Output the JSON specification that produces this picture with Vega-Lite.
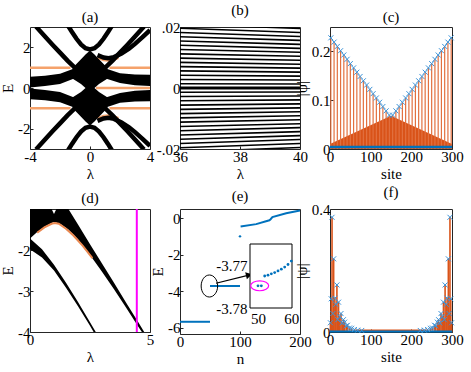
{
"$schema":"https://vega.github.io/schema/vega-lite/v6.json",
"background":"white",
"padding":{"left":0,"top":2,"right":5,"bottom":0},
"config":{
"view":{"stroke":"#262626","strokeWidth":1},
"font":"Liberation Serif",
"axis":{"labelFont":"Liberation Serif","titleFont":"Liberation Serif","labelFontSize":15,"titleFontSize":15,"titleFontWeight":"normal","labelColor":"black","titleColor":"black","grid":false,"domain":false,"ticks":true,"tickSize":-3,"tickColor":"#262626","labelPadding":3,"titlePadding":2,"labelFlush":false,"labelOverlap":false,"labelBound":false},
"axisX":{"labelAngle":0},
"title":{"font":"Liberation Serif","fontSize":15,"fontWeight":"normal","offset":2,"color":"black"}
},
"spacing":2,
"vconcat":[
{"hconcat":[
{"width":120,"height":122,"title":"(a)",
"layer":[
{"data":{"values":[
{"x":-4,"y":1,"s":"o1"},{"x":-1.3,"y":1,"s":"o1"},
{"x":1.3,"y":1,"s":"o2"},{"x":4,"y":1,"s":"o2"},
{"x":-4,"y":-1,"s":"o3"},{"x":-1.3,"y":-1,"s":"o3"},
{"x":1.3,"y":-1,"s":"o4"},{"x":4,"y":-1,"s":"o4"},
{"x":0.4,"y":0,"s":"o5"},{"x":4,"y":0,"s":"o5"},
{"x":0.5,"y":1.5,"s":"o6"},{"x":0.9,"y":1.38,"s":"o6"},{"x":1.23,"y":1.35,"s":"o6"},{"x":1.6,"y":1.4,"s":"o6"},{"x":1.9,"y":1.48,"s":"o6"},
{"x":0.5,"y":-1.5,"s":"o7"},{"x":0.9,"y":-1.38,"s":"o7"},{"x":1.23,"y":-1.35,"s":"o7"},{"x":1.6,"y":-1.4,"s":"o7"},{"x":1.9,"y":-1.48,"s":"o7"}]},
"mark":{"type":"line","color":"#F5A26B","strokeWidth":2.5,"clip":true},
"encoding":{"x":{"field":"x","type":"quantitative","scale":{"domain":[-4,4],"nice":false},"axis":{"values":[-4,-2,0,2,4],"title":"λ","labelExpr":"datum.value+''"}},
"y":{"field":"y","type":"quantitative","scale":{"domain":[-3,3],"nice":false},"axis":{"values":[-2,0,2],"title":"E","labelExpr":"datum.value+''"}},
"detail":{"field":"s"}}},
{"data":{"values":[
{"x":-4,"lo":0.03,"hi":0.55,"s":"UL"},{"x":-3,"lo":0.1,"hi":0.6,"s":"UL"},{"x":-2,"lo":0.2,"hi":0.7,"s":"UL"},{"x":-1.1,"lo":0.45,"hi":0.95,"s":"UL"},
{"x":1.1,"lo":0.45,"hi":0.95,"s":"UR"},{"x":2,"lo":0.25,"hi":0.72,"s":"UR"},{"x":3,"lo":0.13,"hi":0.66,"s":"UR"},{"x":4,"lo":0.1,"hi":0.65,"s":"UR"},
{"x":-4,"lo":-0.55,"hi":-0.03,"s":"LL"},{"x":-3,"lo":-0.6,"hi":-0.1,"s":"LL"},{"x":-2,"lo":-0.7,"hi":-0.2,"s":"LL"},{"x":-1.1,"lo":-0.95,"hi":-0.45,"s":"LL"},
{"x":1.1,"lo":-0.95,"hi":-0.45,"s":"LR"},{"x":2,"lo":-0.72,"hi":-0.25,"s":"LR"},{"x":3,"lo":-0.66,"hi":-0.13,"s":"LR"},{"x":4,"lo":-0.65,"hi":-0.1,"s":"LR"},
{"x":-1.15,"lo":0.45,"hi":1.0,"s":"BU"},{"x":-0.6,"lo":0.2,"hi":1.42,"s":"BU"},{"x":-0.3,"lo":0.0,"hi":1.65,"s":"BU"},{"x":0,"lo":-0.1,"hi":1.85,"s":"BU"},{"x":0.3,"lo":0.0,"hi":1.65,"s":"BU"},{"x":0.6,"lo":0.2,"hi":1.42,"s":"BU"},{"x":1.15,"lo":0.45,"hi":1.0,"s":"BU"},
{"x":-1.15,"lo":-1.0,"hi":-0.45,"s":"BL"},{"x":-0.6,"lo":-1.42,"hi":-0.2,"s":"BL"},{"x":-0.3,"lo":-1.65,"hi":0.0,"s":"BL"},{"x":0,"lo":-1.85,"hi":0.1,"s":"BL"},{"x":0.3,"lo":-1.65,"hi":0.0,"s":"BL"},{"x":0.6,"lo":-1.42,"hi":-0.2,"s":"BL"},{"x":1.15,"lo":-1.0,"hi":-0.45,"s":"BL"}]},
"mark":{"type":"area","color":"black","clip":true,"opacity":1},
"encoding":{"x":{"field":"x","type":"quantitative"},"y":{"field":"lo","type":"quantitative"},"y2":{"field":"hi"},"detail":{"field":"s"}}},
{"data":{"values":[
{"x":-3.6,"y":3.02,"s":"H1"},{"x":-3,"y":2.53,"s":"H1"},{"x":-2.5,"y":2.13,"s":"H1"},{"x":-2,"y":1.74,"s":"H1"},{"x":-1.5,"y":1.35,"s":"H1"},{"x":-1,"y":0.99,"s":"H1"},{"x":-0.5,"y":0.69,"s":"H1"},{"x":0,"y":0.55,"s":"H1"},{"x":0.5,"y":0.69,"s":"H1"},{"x":1,"y":0.99,"s":"H1"},{"x":1.5,"y":1.35,"s":"H1"},{"x":2,"y":1.74,"s":"H1"},{"x":2.5,"y":2.13,"s":"H1"},{"x":3,"y":2.53,"s":"H1"},{"x":3.6,"y":3.02,"s":"H1"},
{"x":-3.6,"y":-3.02,"s":"H2"},{"x":-3,"y":-2.53,"s":"H2"},{"x":-2.5,"y":-2.13,"s":"H2"},{"x":-2,"y":-1.74,"s":"H2"},{"x":-1.5,"y":-1.35,"s":"H2"},{"x":-1,"y":-0.99,"s":"H2"},{"x":-0.5,"y":-0.69,"s":"H2"},{"x":0,"y":-0.55,"s":"H2"},{"x":0.5,"y":-0.69,"s":"H2"},{"x":1,"y":-0.99,"s":"H2"},{"x":1.5,"y":-1.35,"s":"H2"},{"x":2,"y":-1.74,"s":"H2"},{"x":2.5,"y":-2.13,"s":"H2"},{"x":3,"y":-2.53,"s":"H2"},{"x":3.6,"y":-3.02,"s":"H2"},
{"x":-1.45,"y":3.05,"s":"U1"},{"x":-1.2,"y":2.75,"s":"U1"},{"x":-0.9,"y":2.42,"s":"U1"},{"x":-0.6,"y":2.14,"s":"U1"},{"x":-0.3,"y":1.96,"s":"U1"},{"x":0,"y":1.9,"s":"U1"},{"x":0.3,"y":1.96,"s":"U1"},{"x":0.6,"y":2.14,"s":"U1"},{"x":0.9,"y":2.42,"s":"U1"},{"x":1.2,"y":2.75,"s":"U1"},{"x":1.45,"y":3.05,"s":"U1"},
{"x":-1.45,"y":-3.05,"s":"U2"},{"x":-1.2,"y":-2.75,"s":"U2"},{"x":-0.9,"y":-2.42,"s":"U2"},{"x":-0.6,"y":-2.14,"s":"U2"},{"x":-0.3,"y":-1.96,"s":"U2"},{"x":0,"y":-1.9,"s":"U2"},{"x":0.3,"y":-1.96,"s":"U2"},{"x":0.6,"y":-2.14,"s":"U2"},{"x":0.9,"y":-2.42,"s":"U2"},{"x":1.2,"y":-2.75,"s":"U2"},{"x":1.45,"y":-3.05,"s":"U2"},
{"x":0.5,"y":1.62,"s":"R1"},{"x":0.9,"y":1.5,"s":"R1"},{"x":1.23,"y":1.47,"s":"R1"},{"x":1.6,"y":1.52,"s":"R1"},{"x":2.1,"y":1.7,"s":"R1"},{"x":2.6,"y":1.93,"s":"R1"},{"x":3.0,"y":2.17,"s":"R1"},{"x":3.5,"y":2.5,"s":"R1"},{"x":4.0,"y":2.85,"s":"R1"},
{"x":0.5,"y":-1.62,"s":"R2"},{"x":0.9,"y":-1.5,"s":"R2"},{"x":1.23,"y":-1.47,"s":"R2"},{"x":1.6,"y":-1.52,"s":"R2"},{"x":2.1,"y":-1.7,"s":"R2"},{"x":2.6,"y":-1.93,"s":"R2"},{"x":3.0,"y":-2.17,"s":"R2"},{"x":3.5,"y":-2.5,"s":"R2"},{"x":4.0,"y":-2.85,"s":"R2"}]},
"mark":{"type":"line","color":"black","strokeWidth":4.5,"clip":true},
"encoding":{"x":{"field":"x","type":"quantitative"},"y":{"field":"y","type":"quantitative"},"detail":{"field":"s"}}}
]},
{"width":120,"height":122,"title":"(b)",
"data":{"values":[
{"x":36,"y":0.0002,"k":"c1"},{"x":40,"y":0.0002,"k":"c1"},{"x":36,"y":-0.0002,"k":"c2"},{"x":40,"y":-0.0002,"k":"c2"},
{"x":36,"y":0.0014,"k":"p1"},{"x":40,"y":0.0013,"k":"p1"},{"x":36,"y":0.0028,"k":"p2"},{"x":40,"y":0.0026,"k":"p2"},{"x":36,"y":0.0042,"k":"p3"},{"x":40,"y":0.0039,"k":"p3"},{"x":36,"y":0.0056,"k":"p4"},{"x":40,"y":0.0052,"k":"p4"},{"x":36,"y":0.007,"k":"p5"},{"x":40,"y":0.0065,"k":"p5"},{"x":36,"y":0.0084,"k":"p6"},{"x":40,"y":0.0078,"k":"p6"},{"x":36,"y":0.0098,"k":"p7"},{"x":40,"y":0.0091,"k":"p7"},{"x":36,"y":0.0112,"k":"p8"},{"x":40,"y":0.0104,"k":"p8"},{"x":36,"y":0.0126,"k":"p9"},{"x":40,"y":0.0117,"k":"p9"},{"x":36,"y":0.014,"k":"p10"},{"x":40,"y":0.013,"k":"p10"},{"x":36,"y":0.0154,"k":"p11"},{"x":40,"y":0.0143,"k":"p11"},{"x":36,"y":0.0168,"k":"p12"},{"x":40,"y":0.0156,"k":"p12"},{"x":36,"y":0.0182,"k":"p13"},{"x":40,"y":0.0169,"k":"p13"},{"x":36,"y":0.0196,"k":"p14"},{"x":40,"y":0.0182,"k":"p14"},{"x":36,"y":0.021,"k":"p15"},{"x":40,"y":0.0195,"k":"p15"},
{"x":36,"y":-0.0014,"k":"m1"},{"x":40,"y":-0.0013,"k":"m1"},{"x":36,"y":-0.0028,"k":"m2"},{"x":40,"y":-0.0026,"k":"m2"},{"x":36,"y":-0.0042,"k":"m3"},{"x":40,"y":-0.0039,"k":"m3"},{"x":36,"y":-0.0056,"k":"m4"},{"x":40,"y":-0.0052,"k":"m4"},{"x":36,"y":-0.007,"k":"m5"},{"x":40,"y":-0.0065,"k":"m5"},{"x":36,"y":-0.0084,"k":"m6"},{"x":40,"y":-0.0078,"k":"m6"},{"x":36,"y":-0.0098,"k":"m7"},{"x":40,"y":-0.0091,"k":"m7"},{"x":36,"y":-0.0112,"k":"m8"},{"x":40,"y":-0.0104,"k":"m8"},{"x":36,"y":-0.0126,"k":"m9"},{"x":40,"y":-0.0117,"k":"m9"},{"x":36,"y":-0.014,"k":"m10"},{"x":40,"y":-0.013,"k":"m10"},{"x":36,"y":-0.0154,"k":"m11"},{"x":40,"y":-0.0143,"k":"m11"},{"x":36,"y":-0.0168,"k":"m12"},{"x":40,"y":-0.0156,"k":"m12"},{"x":36,"y":-0.0182,"k":"m13"},{"x":40,"y":-0.0169,"k":"m13"},{"x":36,"y":-0.0196,"k":"m14"},{"x":40,"y":-0.0182,"k":"m14"},{"x":36,"y":-0.021,"k":"m15"},{"x":40,"y":-0.0195,"k":"m15"}]},
"mark":{"type":"line","color":"black","strokeWidth":1.6,"clip":true},
"encoding":{"x":{"field":"x","type":"quantitative","scale":{"domain":[36,40],"nice":false},"axis":{"values":[36,38,40],"title":"λ"}},
"y":{"field":"y","type":"quantitative","scale":{"domain":[-0.02,0.02],"nice":false},"axis":{"values":[-0.02,0,0.02],"title":null,"labelExpr":"datum.value==0?'0':replace(datum.value+'','0.','.')"}},
"detail":{"field":"k"}}},
{"width":122,"height":122,"title":"(c)",
"layer":[
{"data":{"values":[{"s":0,"v":0.01},{"s":150,"v":0.068},{"s":300,"v":0.01}]},
"mark":{"type":"area","color":"#D95319","opacity":1},
"encoding":{"x":{"field":"s","type":"quantitative","scale":{"domain":[0,300],"nice":false},"axis":{"values":[0,100,200,300],"title":"site"}},
"y":{"field":"v","type":"quantitative","scale":{"domain":[0,0.25],"nice":false},"stack":null,"axis":{"values":[0,0.1,0.2],"title":"|ψ|","labelExpr":"datum.value+''"}}}},
{"data":{"name":"cv","values":[
{"s":2,"v":0.2278},{"s":10,"v":0.219},{"s":18,"v":0.2102},{"s":26,"v":0.2014},{"s":34,"v":0.1926},{"s":42,"v":0.1838},{"s":50,"v":0.175},{"s":58,"v":0.1662},{"s":66,"v":0.1574},{"s":74,"v":0.1486},{"s":82,"v":0.1398},{"s":90,"v":0.131},{"s":98,"v":0.1222},{"s":106,"v":0.1134},{"s":114,"v":0.1046},{"s":122,"v":0.0958},{"s":130,"v":0.087},{"s":138,"v":0.0782},{"s":146,"v":0.0694},
{"s":154,"v":0.0694},{"s":162,"v":0.0782},{"s":170,"v":0.087},{"s":178,"v":0.0958},{"s":186,"v":0.1046},{"s":194,"v":0.1134},{"s":202,"v":0.1222},{"s":210,"v":0.131},{"s":218,"v":0.1398},{"s":226,"v":0.1486},{"s":234,"v":0.1574},{"s":242,"v":0.1662},{"s":250,"v":0.175},{"s":258,"v":0.1838},{"s":266,"v":0.1926},{"s":274,"v":0.2014},{"s":282,"v":0.2102},{"s":290,"v":0.219},{"s":298,"v":0.2278}]},
"mark":{"type":"rule","color":"#E2703F","strokeWidth":1.2},
"encoding":{"x":{"field":"s","type":"quantitative"},"y":{"field":"v","type":"quantitative"},"y2":{"datum":0}}},
{"data":{"values":[{"s":0,"v":0.004},{"s":300,"v":0.004}]},
"mark":{"type":"line","color":"#0072BD","strokeWidth":2.5},
"encoding":{"x":{"field":"s","type":"quantitative"},"y":{"field":"v","type":"quantitative"}}},
{"data":{"name":"cv"},
"mark":{"type":"point","shape":"M-1,-1L1,1M-1,1L1,-1","size":25,"filled":false,"stroke":"#3A92D8","strokeWidth":1,"opacity":1},
"encoding":{"x":{"field":"s","type":"quantitative"},"y":{"field":"v","type":"quantitative"}}}
]}
],"spacing":30,"bounds":"flush"},
{"hconcat":[
{"width":120,"height":123,"title":"(d)",
"layer":[
{"data":{"values":[
{"x":0,"lo":-1.72,"hi":-1,"s":"A"},{"x":0.3,"lo":-1.56,"hi":-1,"s":"A"},{"x":0.6,"lo":-1.43,"hi":-1,"s":"A"},{"x":0.9,"lo":-1.34,"hi":-1,"s":"A"},{"x":1.0,"lo":-1.32,"hi":-1.12,"s":"A"},{"x":1.1,"lo":-1.33,"hi":-1,"s":"A"},{"x":1.3,"lo":-1.38,"hi":-1,"s":"A"},{"x":1.6,"lo":-1.5,"hi":-1,"s":"A"},{"x":2.0,"lo":-1.74,"hi":-1.38,"s":"A"},{"x":2.5,"lo":-2.12,"hi":-1.86,"s":"A"},{"x":3.0,"lo":-2.53,"hi":-2.33,"s":"A"},{"x":3.5,"lo":-2.96,"hi":-2.8,"s":"A"},{"x":4.0,"lo":-3.4,"hi":-3.28,"s":"A"},{"x":4.5,"lo":-3.86,"hi":-3.75,"s":"A"},{"x":4.8,"lo":-4.12,"hi":-4.04,"s":"A"},
{"x":0,"lo":-1.98,"hi":-1.72,"s":"B"},{"x":0.5,"lo":-2.18,"hi":-1.98,"s":"B"},{"x":1.0,"lo":-2.5,"hi":-2.36,"s":"B"},{"x":1.5,"lo":-2.92,"hi":-2.8,"s":"B"},{"x":2.0,"lo":-3.37,"hi":-3.27,"s":"B"},{"x":2.5,"lo":-3.85,"hi":-3.76,"s":"B"},{"x":2.8,"lo":-4.15,"hi":-4.06,"s":"B"}]},
"mark":{"type":"area","color":"black","clip":true,"opacity":1},
"encoding":{"x":{"field":"x","type":"quantitative","scale":{"domain":[0,5],"nice":false},"axis":{"values":[0,5],"title":"λ"}},
"y":{"field":"lo","type":"quantitative","scale":{"domain":[-4,-1],"nice":false},"axis":{"values":[-4,-3,-2],"title":"E","labelExpr":"datum.value+''"}},"y2":{"field":"hi"},"detail":{"field":"s"}}},
{"data":{"values":[{"x":0.3,"y":-1.58},{"x":0.6,"y":-1.45},{"x":0.9,"y":-1.36},{"x":1.03,"y":-1.34},{"x":1.2,"y":-1.36},{"x":1.5,"y":-1.48},{"x":1.8,"y":-1.64},{"x":2.2,"y":-1.9},{"x":2.6,"y":-2.2}]},
"mark":{"type":"line","color":"#E9874F","strokeWidth":2},
"encoding":{"x":{"field":"x","type":"quantitative"},"y":{"field":"y","type":"quantitative"}}},
{"data":{"values":[{"x":4.45}]},
"mark":{"type":"rule","color":"#FF00FF","strokeWidth":2},
"encoding":{"x":{"field":"x","type":"quantitative"}}}
]},
{"width":120,"height":125,"title":"(e)",
"resolve":{"scale":{"x":"independent","y":"independent"},"axis":{"x":"independent","y":"independent"}},
"layer":[
{"layer":[
{"data":{"values":[{"n":0,"E":-5.68,"g":"a"},{"n":50,"E":-5.68,"g":"a"},{"n":50,"E":-3.72,"g":"b"},{"n":100,"E":-3.72,"g":"b"},{"n":101,"E":-0.46,"g":"c"},{"n":127,"E":-0.33,"g":"c"},{"n":149,"E":-0.12,"g":"c"},{"n":151,"E":-0.06,"g":"c"},{"n":154,"E":0.06,"g":"c"},{"n":177,"E":0.27,"g":"c"},{"n":200,"E":0.42,"g":"c"}]},
"mark":{"type":"line","color":"#0072BD","strokeWidth":2},
"encoding":{"x":{"field":"n","type":"quantitative","scale":{"domain":[0,200],"nice":false},"axis":{"values":[0,100,200],"title":"n"}},
"y":{"field":"E","type":"quantitative","scale":{"domain":[-6.35,0.5],"nice":false},"axis":{"values":[-6,-4,-2,0],"title":"E","labelExpr":"datum.value+''"}},"detail":{"field":"g"}}},
{"data":{"values":[{"n":100,"E":-1.0}]},
"mark":{"type":"circle","color":"#0072BD","size":6,"opacity":1},
"encoding":{"x":{"field":"n","type":"quantitative"},"y":{"field":"E","type":"quantitative"}}},
{"data":{"values":[{"n":49,"E":-3.72}]},
"mark":{"type":"point","shape":"M-0.75,0A0.75,1,0,1,0,0.75,0A0.75,1,0,1,0,-0.75,0Z","size":484,"filled":false,"stroke":"black","strokeWidth":1,"opacity":1},
"encoding":{"x":{"field":"n","type":"quantitative"},"y":{"field":"E","type":"quantitative"}}},
{"data":{"values":[{"n":60,"E":-3.57},{"n":113,"E":-3.14}]},
"mark":{"type":"line","color":"black","strokeWidth":1.2},
"encoding":{"x":{"field":"n","type":"quantitative"},"y":{"field":"E","type":"quantitative"}}},
{"data":{"values":[{"n":115,"E":-3.12}]},
"mark":{"type":"point","shape":"triangle-right","angle":-14,"size":50,"filled":true,"color":"black","opacity":1},
"encoding":{"x":{"field":"n","type":"quantitative"},"y":{"field":"E","type":"quantitative"}}}
]},
{"layer":[
{"data":{"values":[{"a":47.6,"b":60.2,"c":-3.78,"d":-3.765}]},
"mark":{"type":"rect","fill":"white","stroke":"black","strokeWidth":1},
"encoding":{"x":{"field":"a","type":"quantitative","scale":{"domain":[47.6,60.2],"range":[70,112],"nice":false,"zero":false},"axis":{"orient":"bottom","offset":-26,"values":[50,60],"title":null,"ticks":false}},"x2":{"field":"b"},
"y":{"field":"c","type":"quantitative","scale":{"domain":[-3.78,-3.765],"range":[99,35],"nice":false,"zero":false},"axis":{"orient":"left","offset":-70,"values":[-3.78,-3.77],"title":null,"ticks":false,"labelExpr":"datum.value+''"}},"y2":{"field":"d"}}},
{"data":{"values":[{"n":50,"E":-3.7748},{"n":51,"E":-3.7748},{"n":52,"E":-3.7725},{"n":53,"E":-3.7723},{"n":54,"E":-3.772},{"n":55,"E":-3.7717},{"n":56,"E":-3.7713},{"n":57,"E":-3.7709},{"n":58,"E":-3.7704},{"n":59,"E":-3.7698},{"n":60,"E":-3.769}]},
"mark":{"type":"circle","color":"#0072BD","size":8,"opacity":1},
"encoding":{"x":{"field":"n","type":"quantitative"},"y":{"field":"E","type":"quantitative"}}},
{"data":{"values":[{"n":50.5,"E":-3.7748}]},
"mark":{"type":"point","shape":"M-1,0A1,0.55,0,1,0,1,0A1,0.55,0,1,0,-1,0Z","size":324,"filled":false,"stroke":"#FF00FF","strokeWidth":1.2,"opacity":1},
"encoding":{"x":{"field":"n","type":"quantitative"},"y":{"field":"E","type":"quantitative"}}}
]}
]},
{"width":122,"height":123,"title":"(f)",
"layer":[
{"data":{"name":"fv","values":[
{"s":1,"v":0.03},{"s":3,"v":0.108},{"s":5,"v":0.373},{"s":7,"v":0.06},{"s":9,"v":0.238},{"s":12,"v":0.11},{"s":14,"v":0.09},{"s":17,"v":0.153},{"s":19,"v":0.04},{"s":21,"v":0.097},{"s":24,"v":0.05},{"s":27,"v":0.06},{"s":30,"v":0.03},{"s":33,"v":0.04},{"s":36,"v":0.032},{"s":40,"v":0.02},{"s":43,"v":0.022},{"s":48,"v":0.013},{"s":53,"v":0.012},{"s":60,"v":0.008},{"s":68,"v":0.006},{"s":78,"v":0.005},
{"s":299,"v":0.03},{"s":297,"v":0.108},{"s":295,"v":0.373},{"s":293,"v":0.06},{"s":291,"v":0.238},{"s":288,"v":0.11},{"s":286,"v":0.09},{"s":283,"v":0.153},{"s":281,"v":0.04},{"s":279,"v":0.097},{"s":276,"v":0.05},{"s":273,"v":0.06},{"s":270,"v":0.03},{"s":267,"v":0.04},{"s":264,"v":0.032},{"s":260,"v":0.02},{"s":257,"v":0.022},{"s":252,"v":0.013},{"s":247,"v":0.012},{"s":240,"v":0.008},{"s":232,"v":0.006},{"s":222,"v":0.005}]},
"mark":{"type":"rule","color":"#D95319","strokeWidth":1.6},
"encoding":{"x":{"field":"s","type":"quantitative","scale":{"domain":[0,300],"nice":false},"axis":{"values":[0,100,200,300],"title":"site","labelOverlap":false,"labelBound":false,"labelFlush":false}},
"y":{"field":"v","type":"quantitative","scale":{"domain":[0,0.4],"nice":false},"axis":{"values":[0,0.4],"title":"|ψ|","labelExpr":"datum.value+''"}},"y2":{"datum":0}}},
{"data":{"values":[{"s":60,"v":0.004},{"s":240,"v":0.004}]},
"mark":{"type":"line","color":"#D95319","strokeWidth":2.5},
"encoding":{"x":{"field":"s","type":"quantitative"},"y":{"field":"v","type":"quantitative"}}},
{"data":{"values":[{"s":0,"v":0.002},{"s":300,"v":0.002}]},
"mark":{"type":"line","color":"#0072BD","strokeWidth":2},
"encoding":{"x":{"field":"s","type":"quantitative"},"y":{"field":"v","type":"quantitative"}}},
{"data":{"name":"fv"},
"mark":{"type":"point","shape":"M-1,-1L1,1M-1,1L1,-1","size":25,"filled":false,"stroke":"#3A92D8","strokeWidth":1,"opacity":1},
"encoding":{"x":{"field":"s","type":"quantitative"},"y":{"field":"v","type":"quantitative"}}}
]}
],"spacing":30,"bounds":"flush"}
]
}
